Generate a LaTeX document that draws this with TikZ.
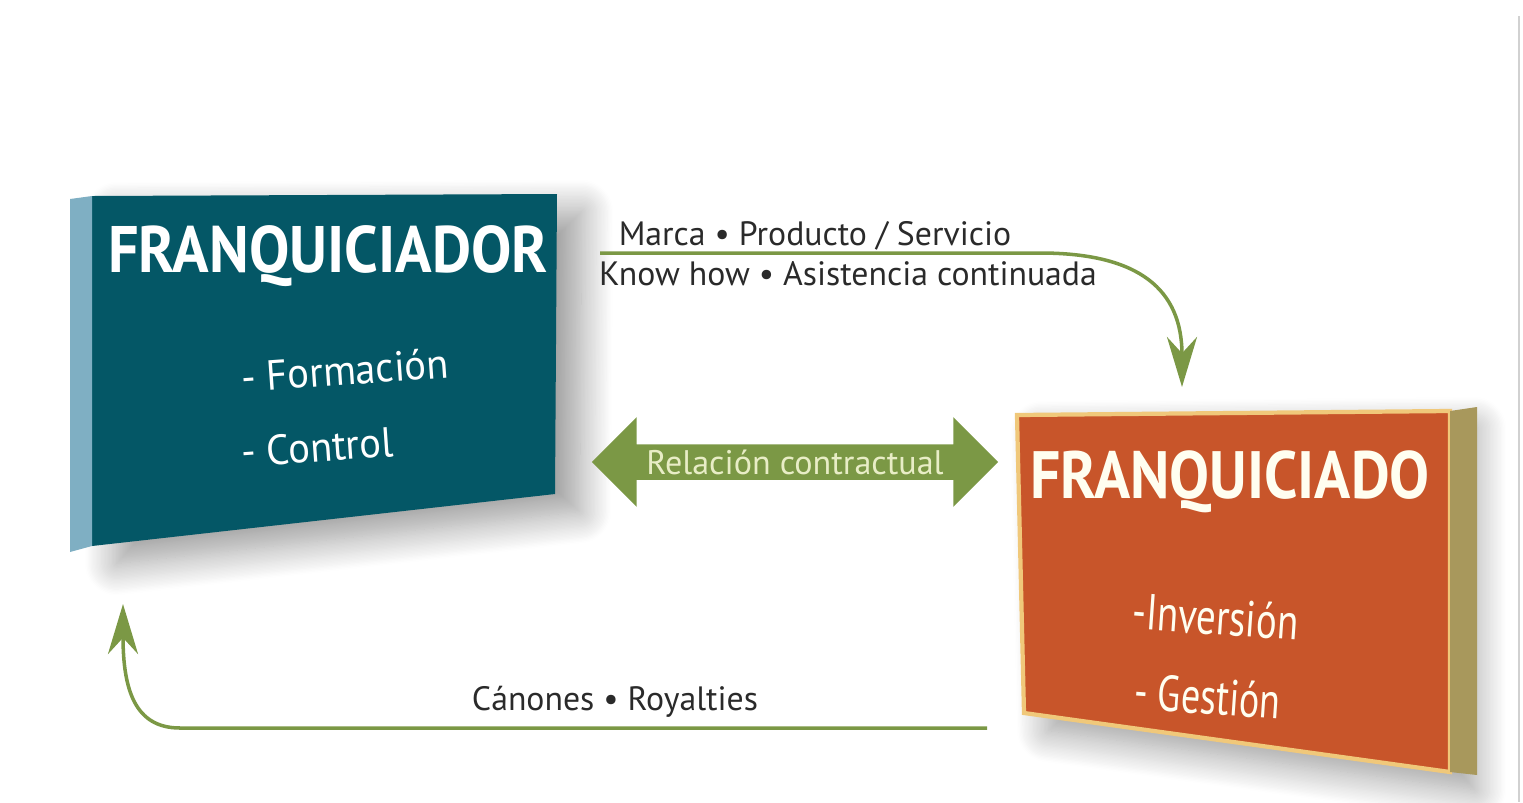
\documentclass[tikz,border=0pt]{standalone}
\usepackage{fontspec}
\setmainfont{PT Sans}
\usetikzlibrary{arrows.meta,shapes.arrows,shadows.blur}

\definecolor{teal}{HTML}{045766}
\definecolor{tealside}{HTML}{7FAFC3}
\definecolor{rust}{HTML}{C8552A}
\definecolor{rustrim}{HTML}{F0C87A}
\definecolor{rustside}{HTML}{A8985C}
\definecolor{olive}{HTML}{7B9845}
\definecolor{cream}{HTML}{E8EDC6}
\definecolor{ink}{HTML}{2A2A2A}

\begin{document}
\begin{tikzpicture}[x=0.01cm,y=-0.01cm,
  boxshadow/.style={blur shadow={shadow xshift=7pt,shadow yshift=-5pt,
    shadow blur radius=9pt,shadow blur steps=24,shadow opacity=40}},
  title/.style={text=white,font=\bfseries\fontsize{17}{17}\selectfont},
  item/.style={text=white,font=\fontsize{12}{12}\selectfont,anchor=west},
  label/.style={text=ink,font=\fontsize{9.6}{9.6}\selectfont},
  flow/.style={olive,line width=1pt,-{Stealth[length=0.5cm,width=0.3cm]}}]
\useasboundingbox (0,0) rectangle (1523,802);
\draw[black!18,line width=0.8pt] (1519,16) -- (1519,802);

% franquiciador
\fill[teal,boxshadow] (92,196) -- (557,194) -- (555,494) -- (92,546) -- cycle;
\fill[tealside] (70,199) -- (92,196) -- (92,546) -- (70,552) -- cycle;
\node[title] (dor) at (328,256) {\scalebox{1.01}[1.1]{FRANQUICIADOR}};
\node[item,rotate=4] (form) at (229,378) {\scalebox{0.96}[1]{- Formación}};
\node[item,rotate=4] (ctrl) at (229,453) {\scalebox{0.96}[1]{- Control}};

% franquiciado
\fill[rust,boxshadow] (1017,415) -- (1450,411) -- (1450,772) -- (1024,713) -- cycle;
\draw[rustrim,line width=1.2pt] (1017,415) -- (1450,411) -- (1450,772) -- (1024,713) -- cycle;
\fill[rustside] (1450,411) -- (1477,407) -- (1477,775) -- (1450,772) -- cycle;
\node[title,text=white!94!yellow] (do) at (1230,482) {\scalebox{1.0}[1.12]{FRANQUICIADO}};
\node[item,text=white!94!yellow,rotate=-4] (inv) at (1120,610) {\scalebox{0.92}[1.2]{-Inversión}};
\node[item,text=white!94!yellow,rotate=-4] (gest) at (1122,690) {\scalebox{0.9}[1.2]{- Gestión}};

% relacion
\node[double arrow,fill=olive,text=cream,font=\fontsize{9.7}{9.7}\selectfont,
  minimum height=4.06cm,inner ysep=1.3pt,double arrow head extend=0.27cm,
  double arrow head indent=0cm] (rel) at (795,462) {Relación contractual};

% flujos
\coordinate (topStart) at (600,253);
\coordinate (topEnd) at (1182,387);
\coordinate (botStart) at (987,728);
\coordinate (botEnd) at (123,604);
\draw[flow] (topStart) -- (1040,253) .. controls (1140,253) and (1182,290) .. (topEnd);
\draw[flow] (botStart) -- (180,728) .. controls (135,728) and (123,690) .. (botEnd);

\node[label] (marca) at (815,236) {Marca • Producto / Servicio};
\node[label] (know) at (848,274) {Know how • Asistencia continuada};
\node[label] (canon) at (615,702) {Cánones • Royalties};
\end{tikzpicture}
\end{document}
